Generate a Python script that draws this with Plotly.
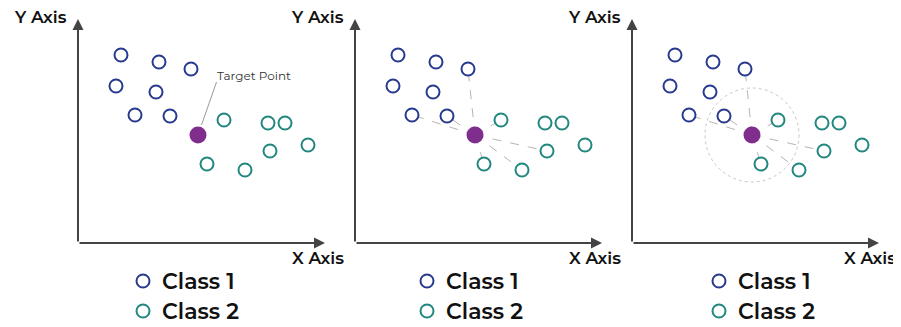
import plotly.graph_objects as go

# ---- data (same configuration in all three panels) ----
class1_x = [4.3, 8.1, 11.3, 3.8, 7.8, 5.7, 9.2]
class1_y = [18.8, 18.1, 17.4, 15.7, 15.1, 12.8, 12.7]
class2_x = [14.6, 19.0, 20.7, 23.0, 19.2, 12.9, 16.7]
class2_y = [12.3, 12.0, 12.0, 9.8, 9.2, 7.9, 7.3]
target_x = [12.0]
target_y = [10.8]
neighbor_c1 = [2, 5, 6]        # class 1 points joined to the target
neighbor_c2 = [0, 4, 5, 6]     # class 2 points joined to the target
radius_k = 4.7
legend_labels = ["Class 1", "Class 2"]
axis_labels = ["X Axis", "Y Axis"]

C1 = "#283a8f"
C2 = "#22887f"
CT = "#7f2e8d"
AX = "#444444"
FONT = "Montserrat, Open Sans, sans-serif"

# page body has an 8px margin, so the figure is 8px smaller than the window
W, H = 893, 319
OFF = 8
origins = [78 - OFF, 355 - OFF, 632 - OFF]   # pixel x of each panel's y-axis
legend_cx = [6.5, 7.2, 8.7]                  # legend circle x (data units) per panel
xlabel_right = [34.6, 34.6, 26.4]            # right edge of "X Axis" label (data units)
base_py = 243 - OFF                          # pixel y of x-axis
scale = 10.0                                 # pixels per data unit

fig = go.Figure()
layout_axes = {}
annotations = []
shapes = []

for i, ox in enumerate(origins):
    n = "" if i == 0 else str(i + 1)
    xa, ya = "x" + n, "y" + n
    px0 = max(0, ox - 70)
    px1 = min(W, ox + 270)
    layout_axes["xaxis" + n] = dict(domain=[px0 / W, px1 / W],
                                    range=[(px0 - ox) / scale, (px1 - ox) / scale],
                                    visible=False, fixedrange=True)
    layout_axes["yaxis" + n] = dict(domain=[0, 1],
                                    range=[(base_py - H) / scale, base_py / scale],
                                    visible=False, fixedrange=True)

    # connecting dashed lines (panels 2 and 3)
    if i >= 1:
        for j in neighbor_c1:
            fig.add_trace(go.Scatter(x=[target_x[0], class1_x[j]], y=[target_y[0], class1_y[j]],
                                     mode="lines", line=dict(color="#b5b5b5", width=1, dash="dash"),
                                     xaxis=xa, yaxis=ya, showlegend=False, hoverinfo="skip"))
        for j in neighbor_c2:
            fig.add_trace(go.Scatter(x=[target_x[0], class2_x[j]], y=[target_y[0], class2_y[j]],
                                     mode="lines", line=dict(color="#b5b5b5", width=1, dash="dash"),
                                     xaxis=xa, yaxis=ya, showlegend=False, hoverinfo="skip"))
    if i == 2:
        shapes.append(dict(type="circle", xref=xa, yref=ya,
                           x0=target_x[0] - radius_k, x1=target_x[0] + radius_k,
                           y0=target_y[0] - radius_k, y1=target_y[0] + radius_k,
                           line=dict(color="#c8c8c8", width=1, dash="dot"), layer="below"))
    if i == 0:
        shapes.append(dict(type="line", xref=xa, yref=ya,
                           x0=target_x[0] + 0.35, y0=target_y[0] + 1.0,
                           x1=target_x[0] + 1.85, y1=target_y[0] + 5.3,
                           line=dict(color="#9a9a9a", width=1)))
        annotations.append(dict(xref=xa, yref=ya, x=target_x[0] + 1.7, y=target_y[0] + 6.0,
                                text="Target Point", showarrow=False, xanchor="left",
                                font=dict(family=FONT, size=12, color="#333333")))

    fig.add_trace(go.Scatter(x=class1_x, y=class1_y, mode="markers", xaxis=xa, yaxis=ya,
                             marker=dict(size=13, color="white", line=dict(color=C1, width=2)),
                             showlegend=False, cliponaxis=False))
    fig.add_trace(go.Scatter(x=class2_x, y=class2_y, mode="markers", xaxis=xa, yaxis=ya,
                             marker=dict(size=13, color="white", line=dict(color=C2, width=2)),
                             showlegend=False, cliponaxis=False))
    fig.add_trace(go.Scatter(x=target_x, y=target_y, mode="markers", xaxis=xa, yaxis=ya,
                             marker=dict(size=17, color=CT, line=dict(width=0)),
                             showlegend=False, cliponaxis=False))

    # legend markers
    fig.add_trace(go.Scatter(x=[legend_cx[i], legend_cx[i]], y=[-3.8, -6.8], mode="markers",
                             xaxis=xa, yaxis=ya,
                             marker=dict(size=13, color="white",
                                         line=dict(color=[C1, C2], width=2)),
                             showlegend=False, cliponaxis=False))
    for k, (lab, ly) in enumerate(zip(legend_labels, [-3.8, -6.8])):
        annotations.append(dict(xref=xa, yref=ya, x=legend_cx[i] + 1.7, y=ly, text=lab,
                                showarrow=False, xanchor="left", yanchor="middle",
                                font=dict(family=FONT, size=22, color="#111111", weight=600)))

    # axis arrows
    annotations.append(dict(xref=xa, yref=ya, axref=xa, ayref=ya, x=24.7, y=0, ax=0, ay=0,
                            text="", showarrow=True, arrowhead=2, arrowsize=1.1,
                            arrowwidth=2, arrowcolor=AX))
    annotations.append(dict(xref=xa, yref=ya, axref=xa, ayref=ya, x=0, y=22.4, ax=0, ay=0,
                            text="", showarrow=True, arrowhead=2, arrowsize=1.1,
                            arrowwidth=2, arrowcolor=AX))
    xr = min(26.8, (W - 3 - ox) / scale)
    annotations.append(dict(xref=xa, yref=ya, x=xr, y=-1.5, text=axis_labels[0],
                            showarrow=False, xanchor="right", yanchor="middle",
                            font=dict(family=FONT, size=17, color="#111111", weight=600)))
    annotations.append(dict(xref=xa, yref=ya, x=-3.8, y=22.65, text=axis_labels[1],
                            showarrow=False, xanchor="center", yanchor="middle",
                            font=dict(family=FONT, size=17, color="#111111", weight=600)))

fig.update_layout(width=W, height=H, margin=dict(l=0, r=0, t=0, b=0),
                  paper_bgcolor="white", plot_bgcolor="rgba(0,0,0,0)",
                  showlegend=False, annotations=annotations, shapes=shapes,
                  **layout_axes)
fig.write_html("out.html")
